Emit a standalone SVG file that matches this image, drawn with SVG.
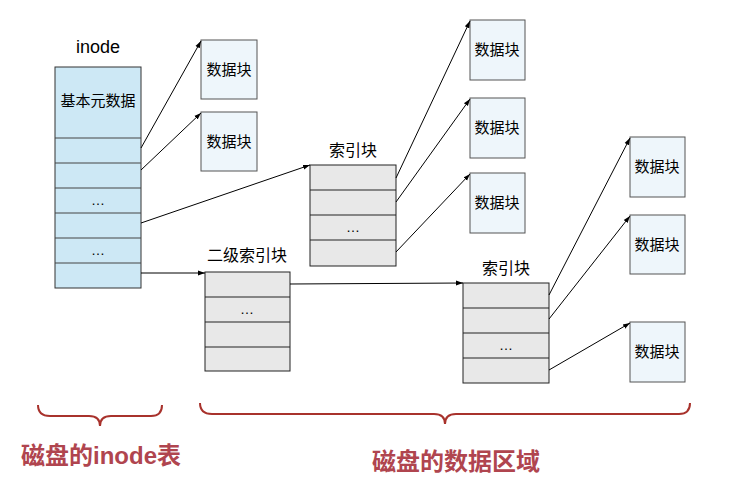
<svg xmlns="http://www.w3.org/2000/svg" width="740" height="482" viewBox="0 0 740 482">
<defs>
<marker id="ah" viewBox="0 0 10 10" refX="10" refY="5" markerWidth="7" markerHeight="7" orient="auto" markerUnits="userSpaceOnUse"><path d="M0,1.5 L10,5 L0,8.5 Z" fill="#000"/></marker>
<style>
.t{font-family:"Liberation Sans","Noto Sans CJK SC",sans-serif;fill:#000;text-anchor:middle}
.ino{fill:#cde8f5;stroke:#333;stroke-width:1}
.idx{fill:#e8e8e8;stroke:#222;stroke-width:1}
.dat{fill:#eef6fb;stroke:#555;stroke-width:1}
.row{stroke:#222;stroke-width:1;fill:none}
.rowi{stroke:#444;stroke-width:1;fill:none}
.c{stroke:#000;stroke-width:1;fill:none;marker-end:url(#ah)}
.br{stroke:#a8322c;stroke-width:2;fill:none}
.lab{font-family:"Liberation Sans","Noto Sans CJK SC",sans-serif;font-weight:bold;font-size:24px;fill:#b0454f;text-anchor:middle}
</style>
</defs>
<rect width="740" height="482" fill="#fff"/>

<g id="inode">
<text class="t" x="98" y="53" font-size="18">inode</text>
<rect class="ino" x="55" y="67" width="86" height="221"/>
<path class="rowi" d="M55,138H141M55,163H141M55,188H141M55,213H141M55,238H141M55,263H141"/>
<text class="t" x="98" y="106" font-size="15">基本元数据</text>
<text class="t" x="98" y="205" font-size="14">…</text>
<text class="t" x="98" y="255" font-size="14">…</text>
</g>

<g id="data1"><rect class="dat" x="201" y="40" width="56" height="59"/><text class="t" x="229" y="75" font-size="15">数据块</text></g>
<g id="data2"><rect class="dat" x="201" y="112" width="56" height="59"/><text class="t" x="229" y="147" font-size="15">数据块</text></g>

<g id="index1">
<text class="t" x="353" y="156" font-size="16">索引块</text>
<rect class="idx" x="310" y="165" width="86" height="101"/>
<path class="row" d="M310,190H396M310,215H396M310,240H396"/>
<text class="t" x="353" y="232" font-size="14">…</text>
</g>

<g id="data3"><rect class="dat" x="470" y="20" width="55" height="60"/><text class="t" x="497" y="55" font-size="15">数据块</text></g>
<g id="data4"><rect class="dat" x="470" y="98" width="55" height="60"/><text class="t" x="497" y="133" font-size="15">数据块</text></g>
<g id="data5"><rect class="dat" x="470" y="173" width="55" height="60"/><text class="t" x="497" y="208" font-size="15">数据块</text></g>

<g id="index2lvl">
<text class="t" x="247" y="261" font-size="16">二级索引块</text>
<rect class="idx" x="205" y="272" width="85" height="99"/>
<path class="row" d="M205,297H290M205,322H290M205,347H290"/>
<text class="t" x="247" y="314" font-size="14">…</text>
</g>

<g id="index2">
<text class="t" x="506" y="274" font-size="16">索引块</text>
<rect class="idx" x="463" y="283" width="86" height="100"/>
<path class="row" d="M463,308H549M463,333H549M463,358H549"/>
<text class="t" x="506" y="350" font-size="14">…</text>
</g>

<g id="data6"><rect class="dat" x="630" y="137" width="55" height="60"/><text class="t" x="657" y="172" font-size="15">数据块</text></g>
<g id="data7"><rect class="dat" x="630" y="215" width="55" height="59"/><text class="t" x="657" y="250" font-size="15">数据块</text></g>
<g id="data8"><rect class="dat" x="630" y="322" width="55" height="60"/><text class="t" x="657" y="357" font-size="15">数据块</text></g>

<g id="connectors">
<path class="c" d="M141,148L201,41"/>
<path class="c" d="M141,170L201,113"/>
<path class="c" d="M141,223L310,165"/>
<path class="c" d="M141,273L205,273"/>
<path class="c" d="M396,178L470,21"/>
<path class="c" d="M396,202L470,99"/>
<path class="c" d="M396,252L470,174"/>
<path class="c" d="M290,284L463,283"/>
<path class="c" d="M549,295L630,138"/>
<path class="c" d="M549,319L630,216"/>
<path class="c" d="M549,370L630,323"/>
</g>

<g id="braces">
<path class="br" d="M38,405Q38,416 50,416L89,416Q100,416 100,426Q100,416 111,416L151,416Q162,416 162,405"/>
<path class="br" d="M200,403Q200,414 212,414L434,414Q445,414 445,424Q445,414 456,414L679,414Q690,414 690,403"/>
</g>

<g id="labels">
<text class="lab" x="101" y="464">磁盘的inode表</text>
<text class="lab" x="456" y="470">磁盘的数据区域</text>
</g>
</svg>
